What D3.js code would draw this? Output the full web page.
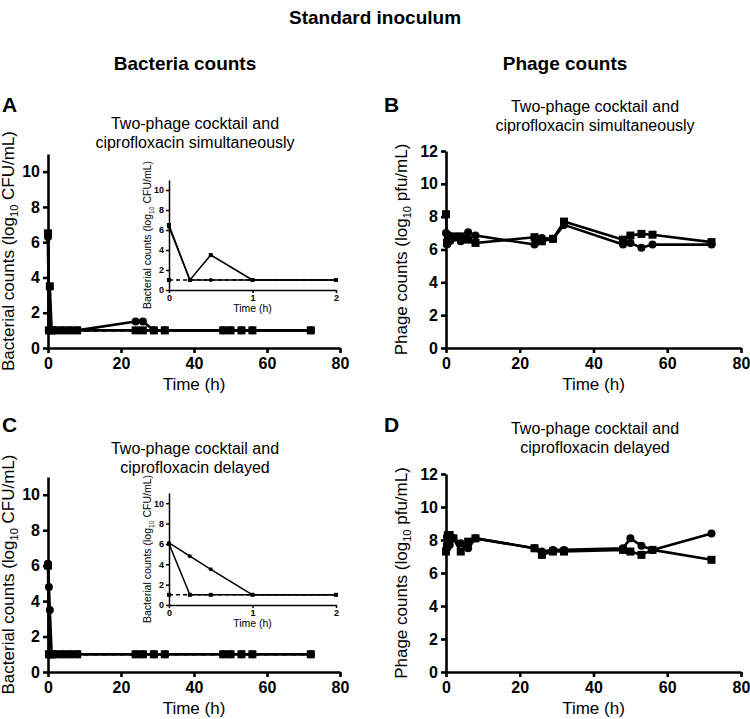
<!DOCTYPE html>
<html><head><meta charset="utf-8">
<script src="https://cdn.jsdelivr.net/npm/d3@7"></script>
<style>body{margin:0;background:#fff}svg{display:block}text{font-family:"Liberation Sans",Arial,sans-serif;fill:#000}</style>
</head><body>
<svg id="c" width="750" height="719"></svg>
<script>
const times = [0,0.25,0.5,1,2,4,6,8,24,26,29,32,48,50,53,56,72];
const aCircle = [6.3,1,1,1,1,1,1,1,1.5,1.5,1,1,1,1,1,1,1];
const aSquare = [6.5,1,3.5,1,1,1,1,1,1,1,1,1,1,1,1,1,1];
const bCircle = [7.0,6.3,6.9,6.5,6.7,6.5,7.05,6.85,6.3,6.7,6.65,7.5,6.3,6.4,6.1,6.3,6.3];
const bSquare = [8.15,6.4,6.8,6.6,6.8,6.8,6.6,6.4,6.75,6.5,6.65,7.7,6.6,6.85,6.95,6.9,6.45];
const cCircle = [6.1,4.8,3.5,1,1,1,1,1,1,1,1,1,1,1,1,1,1];
const cSquare = [6.0,1,1,1,1,1,1,1,1,1,1,1,1,1,1,1,1];
const dCircle = [7.4,8.2,7.9,7.7,8.1,7.8,7.5,8.1,7.5,7.3,7.4,7.4,7.5,8.1,7.65,7.4,8.4];
const dSquare = [7.3,7.6,8.3,8.3,8.1,7.3,7.9,8.1,7.5,7.1,7.3,7.3,7.4,7.3,7.1,7.4,6.8];
const lodValue = 1;
const xTicks = [0,20,40,60,80];
const bactTicks = [0,2,4,6,8,10];
const phageTicks = [0,2,4,6,8,10,12];
const insetXTicks = [0,1,2];

const svg = d3.select("#c");

function txt(x,y,s,size,weight,anchor){
  return svg.append("text").attr("x",x).attr("y",y).attr("font-size",size)
    .attr("font-weight",weight||"normal").attr("text-anchor",anchor||"middle").text(s);
}
txt(375,24,"Standard inoculum",19,"bold");
txt(185,70,"Bacteria counts",19,"bold");
txt(565,70,"Phage counts",19,"bold");

function yLabel(g,x,y,pre,post,size){
  const t=g.append("text").attr("transform",`translate(${x},${y}) rotate(-90)`)
    .attr("text-anchor","middle").attr("font-size",size);
  t.append("tspan").text(pre);
  t.append("tspan").attr("font-size",size*0.65).attr("dy",size*0.25).text("10");
  t.append("tspan").attr("dy",-size*0.25).text("\u00a0"+post);
}

function plot(opt){
  const x=d3.scaleLinear().domain(opt.xd).range(opt.xr);
  const y=d3.scaleLinear().domain(opt.yd).range(opt.yr);
  const g=svg.append("g");
  const sw=opt.sw, fs=opt.fs;
  const xa=g.append("g").attr("transform",`translate(0,${opt.yr[0]})`)
    .call(d3.axisBottom(x).tickValues(opt.xt).tickFormat(d3.format("d")).tickSize(opt.tk).tickPadding(opt.tp).tickSizeOuter(0));
  const ya=g.append("g").attr("transform",`translate(${opt.xr[0]},0)`)
    .call(d3.axisLeft(y).tickValues(opt.yt).tickSize(opt.tk).tickPadding(opt.tpy).tickSizeOuter(0));
  [xa,ya].forEach(a=>{
    a.select(".domain").attr("stroke","#000").attr("stroke-width",sw);
    a.selectAll(".tick line").attr("stroke","#000").attr("stroke-width",sw);
    a.selectAll(".tick text").attr("font-size",fs).attr("font-weight","bold")
      .attr("font-family",'"Liberation Sans",Arial,sans-serif').attr("fill","#000");
  });
  const idx=times.map((t,i)=>i).filter(i=>times[i]<=opt.xd[1]);
  const lw=opt.lw;
  if(opt.lod){
    g.append("line").attr("x1",x(0)).attr("x2",x(opt.lodEnd)).attr("y1",y(lodValue)).attr("y2",y(lodValue))
      .attr("stroke","#000").attr("stroke-width",lw).attr("stroke-dasharray",opt.dash);
    if(opt.lodMark) g.append("rect").attr("x",x(0)-opt.ms/2).attr("y",y(lodValue)-opt.ms/2).attr("width",opt.ms).attr("height",opt.ms);
  }
  opt.series.forEach(s=>{
    const line=d3.line().x(i=>x(times[i])).y(i=>y(s.v[i]));
    g.append("path").attr("d",line(idx)).attr("fill","none").attr("stroke","#000").attr("stroke-width",lw).attr("stroke-linejoin","round");
  });
  opt.series.forEach(s=>{
    idx.forEach(i=>{
      if(s.shape==="sq") g.append("rect").attr("x",x(times[i])-opt.ms/2).attr("y",y(s.v[i])-opt.ms/2).attr("width",opt.ms).attr("height",opt.ms);
      else g.append("circle").attr("cx",x(times[i])).attr("cy",y(s.v[i])).attr("r",opt.ms/2);
    });
  });
  return {x,y,g};
}

function mainPanel(o){
  plot({xd:[0,80],xr:[o.x0,o.x1],yd:[0,o.ymax],yr:[o.y0,o.y1],xt:xTicks,yt:o.yt,tk:5,tp:5,tpy:3,sw:2.6,fs:16,lw:2.6,ms:8,
    lod:o.lod,dash:"5,4",lodEnd:72,series:o.series});
  txt((o.x0+o.x1)/2,o.y0+42,"Time (h)",17);
  yLabel(svg,o.ylx,(o.y0+o.y1)/2,o.ylPre,o.ylPost,17);
  txt(o.lx,o.ly,o.letter,21,"bold","start");
  txt(o.tx,o.ty,"Two-phage cocktail and",16);
  txt(o.tx,o.ty+18.5,o.sub2,16);
}
function inset(o){
  plot({xd:[0,2],xr:[169,336],yd:[0,11],yr:[o.y0,o.y1],xt:insetXTicks,yt:bactTicks,tk:3,tp:2,tpy:2,sw:1.5,fs:9,lw:1.5,ms:4,
    lod:true,dash:"4,3",lodEnd:2,lodMark:true,series:o.series});
  txt(252.5,o.y0+22,"Time (h)",10.5);
  yLabel(svg,151,(o.y0+o.y1)/2,"Bacterial counts (log","CFU/mL)",10.5);
}

mainPanel({x0:48,x1:340,y0:348,y1:154,ymax:11,yt:bactTicks,ylx:14,ylPre:"Bacterial counts (log",ylPost:"CFU/mL)",
  letter:"A",lx:2,ly:112,tx:195,ty:129,sub2:"ciprofloxacin simultaneously",lod:true,
  series:[{shape:"ci",v:aCircle},{shape:"sq",v:aSquare}]});
inset({y0:290,y1:180,series:[{shape:"ci",v:aCircle},{shape:"sq",v:aSquare}]});

mainPanel({x0:446,x1:741,y0:348,y1:151,ymax:12,yt:phageTicks,ylx:407,ylPre:"Phage counts (log",ylPost:"pfu/mL)",
  letter:"B",lx:384,ly:112,tx:595,ty:112,sub2:"ciprofloxacin simultaneously",lod:false,
  series:[{shape:"ci",v:bCircle},{shape:"sq",v:bSquare}]});

mainPanel({x0:48,x1:340,y0:672,y1:477,ymax:11,yt:bactTicks,ylx:14,ylPre:"Bacterial counts (log",ylPost:"CFU/mL)",
  letter:"C",lx:2,ly:432,tx:195,ty:454,sub2:"ciprofloxacin delayed",lod:true,
  series:[{shape:"ci",v:cCircle},{shape:"sq",v:cSquare}]});
inset({y0:605,y1:493,series:[{shape:"ci",v:cCircle},{shape:"sq",v:cSquare}]});

mainPanel({x0:446,x1:741,y0:672,y1:474,ymax:12,yt:phageTicks,ylx:407,ylPre:"Phage counts (log",ylPost:"pfu/mL)",
  letter:"D",lx:384,ly:432,tx:595,ty:434,sub2:"ciprofloxacin delayed",lod:false,
  series:[{shape:"ci",v:dCircle},{shape:"sq",v:dSquare}]});
</script>
</body></html>
